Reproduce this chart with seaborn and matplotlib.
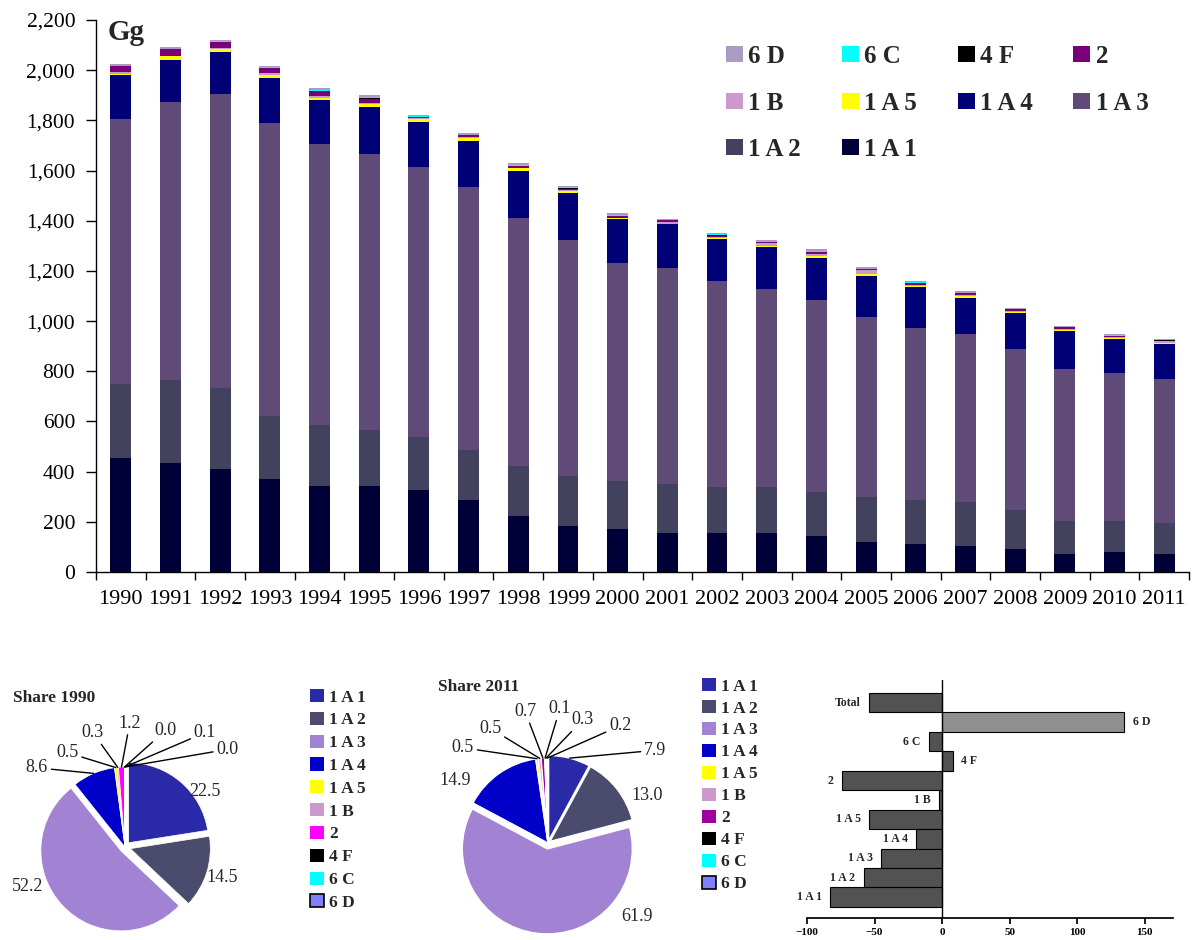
import numpy as np
import pandas as pd
import matplotlib
matplotlib.use("Agg")
import matplotlib.pyplot as plt
import seaborn as sns
from matplotlib.patches import Patch
from matplotlib.ticker import FuncFormatter, FixedLocator

# ---------------- data ----------------
years = [str(y) for y in range(1990, 2012)]
s_1A1 = [453, 433, 409, 369, 341, 341, 326, 286, 222, 182, 170, 154, 154, 154, 142, 118, 110, 102, 90, 70, 78, 73]
s_1A2 = [297, 331, 323, 251, 244, 223, 211, 199, 199, 199, 192, 196, 184, 184, 176, 180, 176, 176, 156, 132, 124, 121]
s_1A3 = [1056, 1108, 1172, 1168, 1120, 1101, 1076, 1048, 988, 944, 868, 860, 820, 788, 765, 717, 685, 669, 641, 606, 590, 576]
s_1A4 = [175, 167, 167, 179, 175, 187, 179, 184, 191, 184, 175, 175, 171, 171, 167, 163, 163, 147, 144, 151, 135, 139]
s_1A5 = [3, 16, 13, 12, 9, 13, 13, 11, 9, 8, 4, 2, 2, 3, 11, 11, 7, 7, 6, 6, 6, 5]
s_1B = [7, 2, 3, 9, 9, 4, 3, 7, 2, 4, 1, 7, 6, 10, 7, 14, 3, 3, 4, 3, 3, 5]
s_2 = [24, 28, 27, 22, 18, 18, 7, 7, 7, 7, 7, 7, 4, 7, 7, 4, 7, 7, 6, 7, 6, 3]
s_4F = [0, 0, 0, 0, 1, 1, 0, 0, 1, 1, 1, 0, 1, 0, 1, 0, 1, 1, 0, 0, 0, 1]
s_6C = [1, 1, 1, 1, 6, 6, 1, 1, 5, 6, 6, 1, 6, 1, 4, 1, 4, 1, 1, 1, 1, 2]
s_6D = [7, 7, 6, 7, 6, 6, 6, 6, 6, 5, 6, 6, 5, 6, 6, 6, 5, 5, 5, 5, 5, 4]

sources = ["1 A 1", "1 A 2", "1 A 3", "1 A 4", "1 A 5", "1 B", "2", "4 F", "6 C", "6 D"]
share_1990 = [22.5, 14.5, 52.2, 8.6, 0.5, 0.3, 1.2, 0.0, 0.1, 0.0]
share_2011 = [7.9, 13.0, 61.9, 14.9, 0.5, 0.5, 0.7, 0.1, 0.3, 0.2]

chg_cats = ["Total", "6 D", "6 C", "4 F", "2", "1 B", "1 A 5", "1 A 4", "1 A 3", "1 A 2", "1 A 1"]
chg_vals = [-54, 135, -10, 8, -74, -2, -54, -19, -45, -58, -83]

# ---------------- styles ----------------
bar_colors = {"1 A 1": "#000038", "1 A 2": "#42425f", "1 A 3": "#5f4a78", "1 A 4": "#000077",
              "1 A 5": "#ffff00", "1 B": "#cc99cc", "2": "#7a007a", "4 F": "#000000",
              "6 C": "#00ffff", "6 D": "#a89cc2"}
pie_colors_1990 = ["#2a2aa8", "#4b4b6e", "#a282d2", "#0000c8", "#ffff00", "#cc99cc",
                   "#ff00ff", "#000000", "#00ffff", "#8080ff"]
pie_colors_2011 = ["#2a2aa8", "#4b4b6e", "#a282d2", "#0000c8", "#ffff00", "#cc99cc",
                   "#a000a0", "#000000", "#00ffff", "#8080ff"]

sns.set_theme(style="ticks")
plt.rcParams['font.family'] = ['Liberation Serif', 'DejaVu Serif']

W, H = 1193, 940
fig = plt.figure(figsize=(W / 100, H / 100), dpi=100)


def box(x0, y0, x1, y1):
    return [x0 / W, 1 - y1 / H, (x1 - x0) / W, (y1 - y0) / H]


# ---------------- stacked bars ----------------
ax = fig.add_axes(box(96, 20, 1189, 572))
series = [s_1A1, s_1A2, s_1A3, s_1A4, s_1A5, s_1B, s_2, s_4F, s_6C, s_6D]
x = np.arange(len(years))
bottom = np.zeros(len(years))
handles = {}
for name, vals in zip(sources, series):
    ax.bar(x, vals, 0.42, bottom=bottom, color=bar_colors[name], linewidth=0)
    handles[name] = Patch(facecolor=bar_colors[name], edgecolor='none')
    bottom += np.array(vals, dtype=float)

ax.set_xlim(-0.5, len(years) - 0.5)
ax.set_ylim(0, 2200)
ax.set_yticks(np.arange(0, 2201, 200))
ax.yaxis.set_major_formatter(FuncFormatter(lambda v, p: f"{v:,.0f}"))
ax.set_xticks(x)
ax.set_xticklabels(years)
ax.xaxis.set_minor_locator(FixedLocator(np.arange(-0.5, len(years), 1.0)))
ax.tick_params(axis='x', which='major', length=0, pad=13, labelsize=16, colors='black')
ax.tick_params(axis='x', which='minor', bottom=True, length=6, direction='out', width=1, color='black')
ax.tick_params(axis='y', left=True, length=7, direction='out', width=1, labelsize=15.5, pad=8, colors='black')
for s in ['top', 'right']:
    ax.spines[s].set_visible(False)
for s in ['left', 'bottom']:
    ax.spines[s].set_color('black')
    ax.spines[s].set_linewidth(1)

fig.text(108 / W, 1 - 32 / H, "Gg", fontsize=21, fontweight='bold', ha='left', va='center')

leg_order = ["6 D", "1 B", "1 A 2", "6 C", "1 A 5", "1 A 1", "4 F", "1 A 4", "2", "1 A 3"]
fig.legend([handles[k] for k in leg_order], leg_order, ncol=4, loc='upper left',
           bbox_to_anchor=(726 / W, 1 - 45 / H), frameon=False, borderpad=0, borderaxespad=0,
           prop=dict(size=18, weight='bold'), handlelength=0.68, handleheight=0.6,
           handletextpad=0.22, columnspacing=1.62, labelspacing=0.94)


# ---------------- pies ----------------
def draw_pie(x0, y0, x1, y1, cx, cy, rpx, shares, cols, explode, labpos, lines, edge):
    pa = fig.add_axes(box(x0, y0, x1, y1))
    wedges, _ = pa.pie(shares, colors=cols, startangle=90, counterclock=False, explode=explode,
                       radius=1, wedgeprops=dict(linewidth=edge, edgecolor='white'))
    pa.set_aspect('auto')
    pa.set_xlim((x0 - cx) / rpx, (x1 - cx) / rpx)
    pa.set_ylim((cy - y1) / rpx, (cy - y0) / rpx)
    pa.axis('off')
    for i, (w, (lx, ly)) in enumerate(zip(wedges, labpos)):
        txt = f"{shares[i]:.1f}"
        if i in lines:
            ang = np.deg2rad((w.theta1 + w.theta2) / 2)
            px = w.center[0] + w.r * np.cos(ang)
            py = w.center[1] + w.r * np.sin(ang)
            pa.annotate(txt, xy=(px, py), xytext=(lx, ly), ha='center', va='center', fontsize=13,
                        arrowprops=dict(arrowstyle='-', lw=1, color='black', shrinkA=0, shrinkB=0))
        else:
            pa.text(lx, ly, txt, ha='center', va='center', fontsize=13)
    return pa


lab_1990 = [(1.0, 0.70), (1.22, -0.38), (-1.22, -0.49), (-1.10, 0.99), (-0.72, 1.18),
            (-0.40, 1.43), (0.06, 1.55), (0.51, 1.46), (1.0, 1.43), (1.28, 1.22)]
lab_2011 = [(1.26, 1.09), (1.16, 0.56), (1.05, -0.86), (-1.09, 0.74), (-1.0, 1.12),
            (-0.68, 1.35), (-0.27, 1.55), (0.14, 1.58), (0.41, 1.45), (0.85, 1.38)]

draw_pie(0, 700, 300, 940, 125, 847, 80, share_1990, pie_colors_1990,
         [0.07, 0.07, 0.07, 0, 0, 0, 0, 0, 0, 0], lab_1990, {3, 4, 5, 6, 7, 8, 9}, 0.5)
draw_pie(420, 690, 690, 940, 548, 843, 85, share_2011, pie_colors_2011,
         [0.03, 0.03, 0.07, 0, 0, 0, 0, 0, 0, 0], lab_2011, {0, 4, 5, 6, 7, 8, 9}, 1.0)

fig.text(13 / W, 1 - 698 / H, "Share 1990", fontsize=12.5, fontweight='bold', ha='left', va='center')
fig.text(438 / W, 1 - 687 / H, "Share 2011", fontsize=12.5, fontweight='bold', ha='left', va='center')


def pie_legend(cols, x, ytop, spacing):
    hs = [Patch(facecolor=c, edgecolor=('black' if i == 9 else 'none'), linewidth=1.2)
          for i, c in enumerate(cols)]
    fig.legend(hs, sources, loc='upper left', bbox_to_anchor=(x / W, 1 - ytop / H), frameon=False,
               borderpad=0, borderaxespad=0, prop=dict(size=12.5, weight='bold'),
               handlelength=0.78, handleheight=0.78, handletextpad=0.3, labelspacing=spacing)


pie_legend(pie_colors_1990, 310, 689, 0.36)
pie_legend(pie_colors_2011, 702, 678, 0.31)

# ---------------- change bars ----------------
bx = fig.add_axes(box(807, 680, 1173, 918))
df = pd.DataFrame({"cat": chg_cats, "val": chg_vals})
pal = {c: ("#8f8f8f" if c == "6 D" else "#525252") for c in chg_cats}
sns.barplot(data=df, x="val", y="cat", hue="cat", palette=pal, order=chg_cats, orient='h',
            width=1.0, edgecolor='black', linewidth=0.8, legend=False, ax=bx, saturation=1)
bx.set_ylim(11.07, -1.17)
bx.set_xlim(-100, 171)
bx.set_xticks([-100, -50, 0, 50, 100, 150])
bx.set_yticks([])
bx.set_xlabel("")
bx.set_ylabel("")
for s in ['left', 'top', 'right']:
    bx.spines[s].set_visible(False)
bx.spines['bottom'].set_color('black')
bx.axvline(0, color='black', lw=1)
bx.tick_params(axis='x', bottom=True, length=4, direction='out', labelsize=8, colors='black', pad=3)
for lbl in bx.get_xticklabels():
    lbl.set_fontweight('bold')
for i, (c, v) in enumerate(zip(chg_cats, chg_vals)):
    bx.annotate(c, xy=(v, i), xytext=(-6 if v < 0 else 6, 0), textcoords='offset points',
                ha='right' if v < 0 else 'left', va='center', fontsize=8.5, fontweight='bold')

fig.savefig("out.png", dpi=100)
